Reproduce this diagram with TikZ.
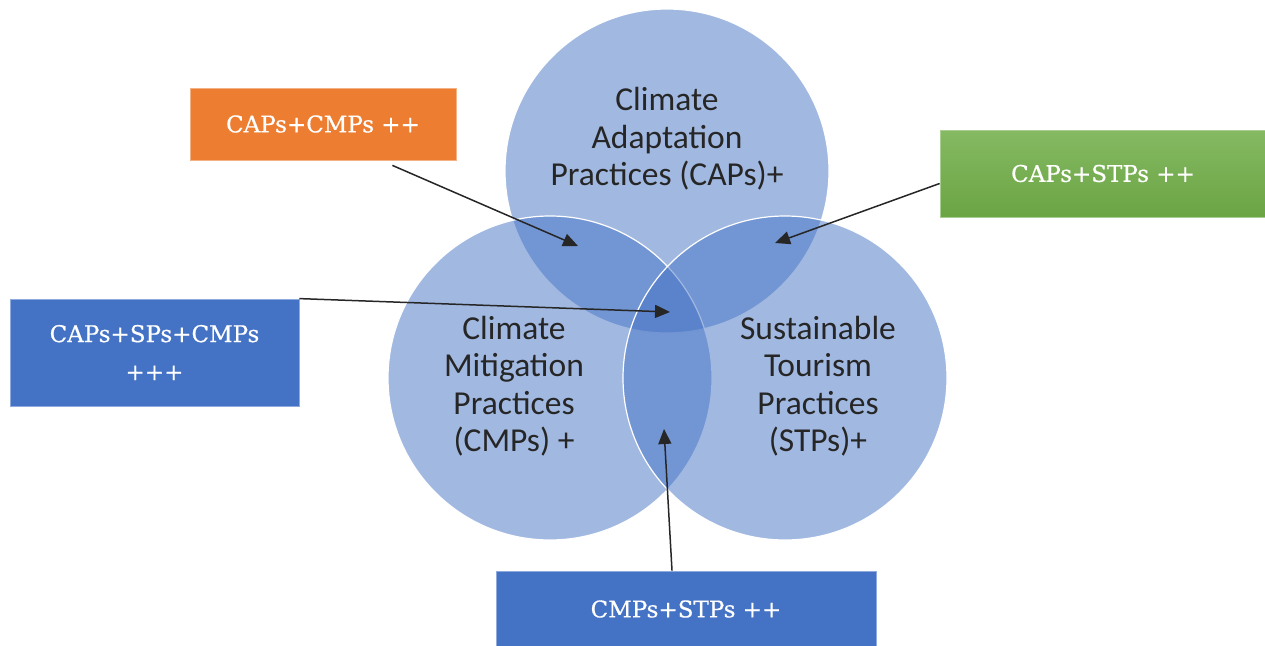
\documentclass[tikz,border=0pt]{standalone}
\usepackage{fontspec}
\setmainfont{Carlito}
\newfontfamily\boxfont[FakeBold=0.6]{DejaVu Serif}
\usetikzlibrary{arrows.meta,positioning}
\definecolor{cblue}{HTML}{4472C4}
\definecolor{corange}{HTML}{ED7D31}
\definecolor{cgreen}{HTML}{70AD47}
\tikzset{
  practice/.style={circle,minimum size=324pt,inner sep=0pt,fill=cblue,fill opacity=0.5,
    draw=white,draw opacity=1,line width=1.2pt},
  circtext/.style={align=center,text=black!85,font=\fontsize{33.5}{37.5}\selectfont},
  combo/.style={draw=#1!60!white,line width=0.8pt,fill=#1,text=white,align=center,
    font=\boxfont\fontsize{23}{38}\selectfont},
  pointer/.style={line width=1.5pt,black!85,-{Triangle[length=15pt,width=13pt]}}
}
\begin{document}
\begin{tikzpicture}[x=1pt,y=-1pt]
\useasboundingbox (0,0) rectangle (1265,645);
% the three practice sets
\node[practice] (cap) at (667,171) {};
\node[practice] (cmp) at (550,378) {};
\node[practice] (stp) at (785,378) {};
\node[circtext] at (667,139) {Climate\\Adaptation\\Practices (CAPs)+};
\node[circtext] at (514,386) {Climate\\Mitigation\\Practices\\(CMPs) +};
\node[circtext] at (818,386) {Sustainable\\Tourism\\Practices\\(STPs)+};
% combination boxes
\node[combo=corange,minimum width=266pt,minimum height=72pt] (capcmp) at (323,124) {CAPs+CMPs ++};
\node[combo=cgreen,minimum width=326pt,minimum height=87pt,
  top color=cgreen!85!white,bottom color=cgreen!95!black] (capstp) at (1103,173.5) {CAPs+STPs ++};
\node[combo=cblue,minimum width=289pt,minimum height=107pt] (allthree) at (154.5,352.5) {CAPs+SPs+CMPs\\+++};
\node[combo=cblue,minimum width=380pt,minimum height=76pt] (cmpstp) at (686,609) {CMPs+STPs ++};
% where the arrows land
\coordinate (capcmpin) at (578,246);
\coordinate (capstpin) at (775,243);
\coordinate (allin) at (670,312);
\coordinate (cmpstpin) at (664,429);
\draw[pointer] ([xshift=-64pt,yshift=-5pt]capcmp.south east) -- (capcmpin);
\draw[pointer] ([yshift=-10pt]capstp.west) -- (capstpin);
\draw[pointer] (allthree.north east) -- (allin);
\draw[pointer] ([xshift=-14pt]cmpstp.north) -- (cmpstpin);
\end{tikzpicture}
\end{document}
